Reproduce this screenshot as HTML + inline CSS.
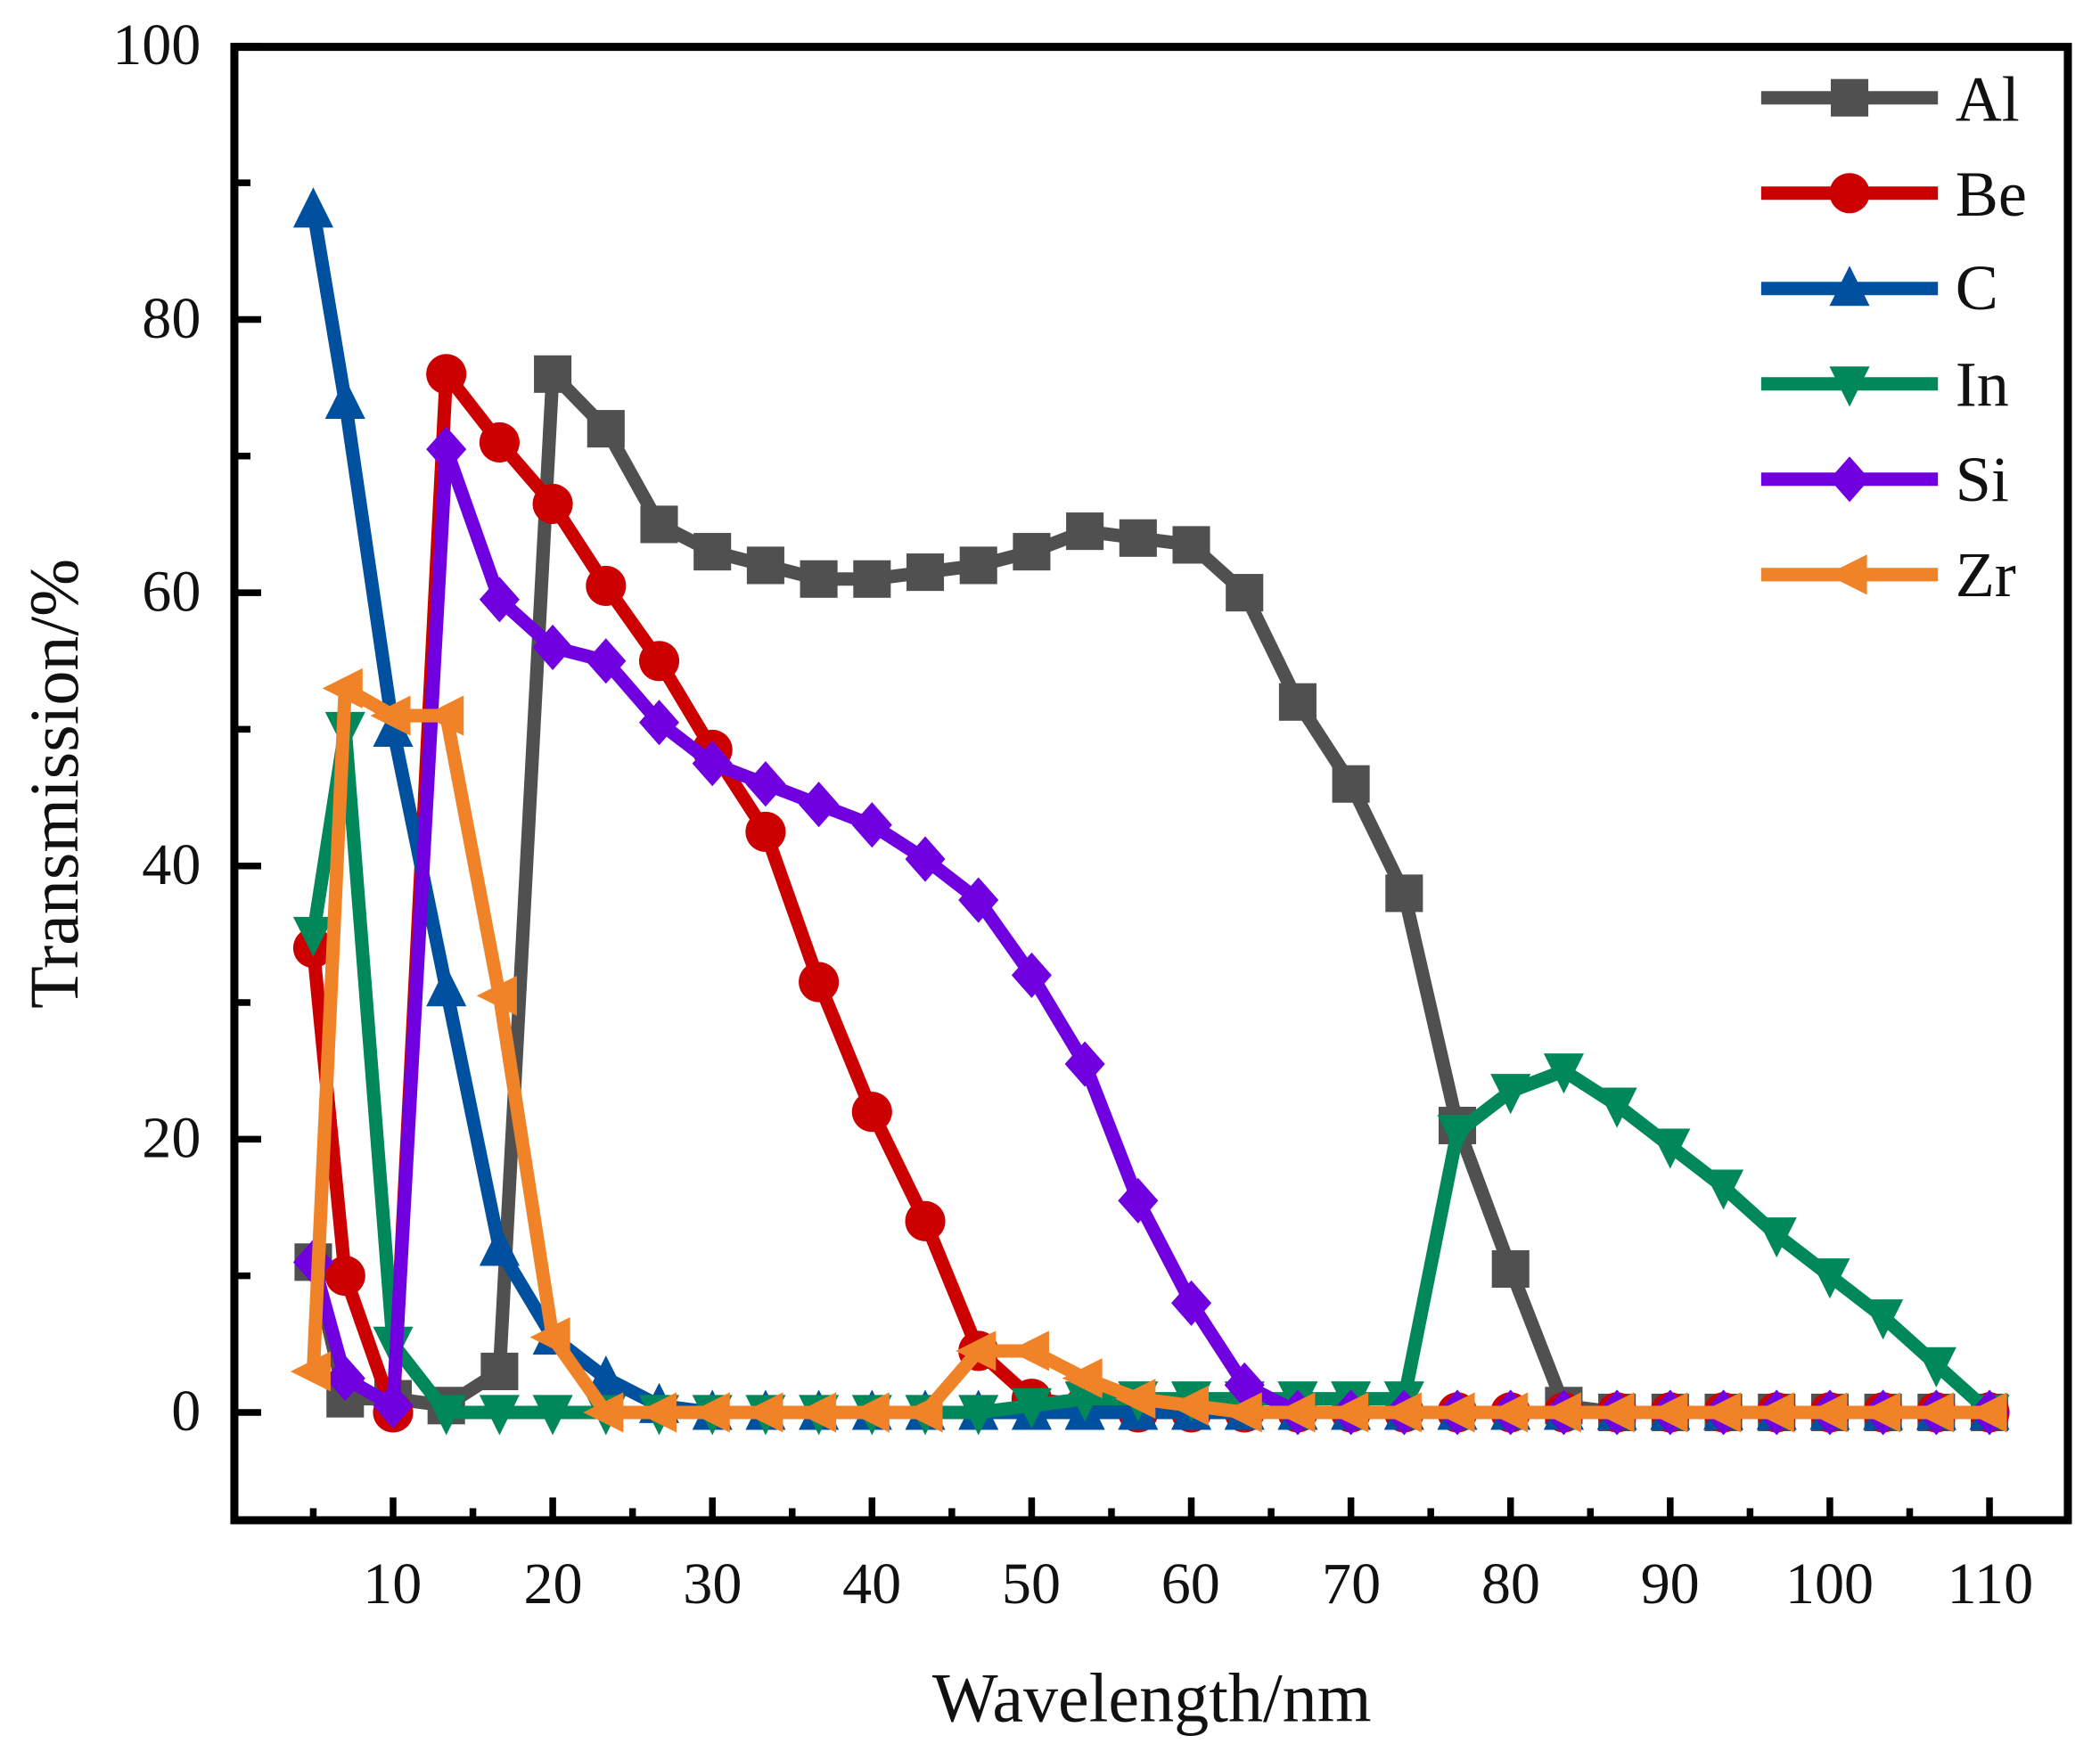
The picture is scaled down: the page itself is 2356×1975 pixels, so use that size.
<!DOCTYPE html>
<html><head><meta charset="utf-8"><style>
html,body{margin:0;padding:0;background:#fff;}
svg{display:block;}
text{font-family:"Liberation Serif",serif;fill:#111;}
</style></head><body>
<svg id="s" width="2356" height="1975" viewBox="0 0 1568 1314" preserveAspectRatio="none" xmlns="http://www.w3.org/2000/svg">
<g id="data"></g>
<rect x="175" y="35" width="1369" height="1100" fill="none" stroke="#000" stroke-width="6"/>
<g id="ticks" stroke="#000" stroke-width="5"></g>
<g font-size="44" text-anchor="end">
<text x="150" y="48">100</text>
<text x="150" y="252">80</text>
<text x="150" y="456">60</text>
<text x="150" y="660">40</text>
<text x="150" y="864">20</text>
<text x="150" y="1068">0</text>
</g>
<g font-size="44" text-anchor="middle">
<text x="293" y="1197">10</text><text x="413" y="1197">20</text><text x="532" y="1197">30</text>
<text x="651" y="1197">40</text><text x="770" y="1197">50</text><text x="889" y="1197">60</text>
<text x="1009" y="1197">70</text><text x="1128" y="1197">80</text><text x="1247" y="1197">90</text>
<text x="1366" y="1197">100</text><text x="1486" y="1197">110</text>
</g>
<text x="860" y="1285" font-size="52" text-anchor="middle">Wavelength/nm</text>
<text transform="translate(58,585) rotate(-90)" font-size="52" text-anchor="middle">Transmission/%</text>
<g id="legend"></g>
<g font-size="48">
<text x="1460" y="90">Al</text><text x="1460" y="161">Be</text><text x="1460" y="231">C</text>
<text x="1460" y="303">In</text><text x="1460" y="374">Si</text><text x="1460" y="445">Zr</text>
</g>
</svg>
<script>
const NS="http://www.w3.org/2000/svg";
const X=v=>293.5+(v-10)*11.92, Y=v=>1054.5-v*10.2;
const xs=[5,7].concat(Array.from({length:31},(_,i)=>10+i*10/3));
function fill(a){while(a.length<xs.length)a.push(0);return a;}
const S=[
["#505050","sq",fill([11,1,1,0.5,3,76,72,65,63,62,61,61,61.5,62,63,64.5,64,63.5,60,52,46,38,21,10.5,0.5])],
["#cc0000","ci",fill([34,10,0,76,71,66.5,60.5,55,48.5,42.5,31.5,22,14,4.5,1,0.5])],
["#0050a0","up",fill([88,74,50,31,12,5.5,2.5,0.5])],
["#00875a","dn",[35,50,5,0,0,0,0,0,0,0,0,0,0,0,0.5,1,1,1,1,1,1,1,20.5,23.5,25,22.5,19.5,16.5,13,10,7,3.5,0]],
["#7000e0","di",fill([11,2.5,0.5,70.5,59.5,56,55,50.5,47.5,46,44.5,43,40.5,37.5,32,25.5,15.5,8,2])],
["#f08228","lt",fill([3,53,51,51,30.5,5.5,0,0,0,0,0,0,0,4.5,4.5,2.5,1,0.5])]
];
function el(n,a,p){const e=document.createElementNS(NS,n);for(const k in a)e.setAttribute(k,a[k]);p.appendChild(e);return e;}
function mk(t,x,y,c,p){const r=15;
 if(t=="sq")el("rect",{x:x-r+1,y:y-r+1,width:2*r-2,height:2*r-2,fill:c},p);
 else if(t=="ci")el("circle",{cx:x,cy:y,r:r,fill:c},p);
 else if(t=="up")el("polygon",{points:`${x},${y-r-2} ${x-r},${y+r-2} ${x+r},${y+r-2}`,fill:c},p);
 else if(t=="dn")el("polygon",{points:`${x},${y+r+2} ${x-r},${y-r+2} ${x+r},${y-r+2}`,fill:c},p);
 else if(t=="di")el("polygon",{points:`${x},${y-r-2} ${x+r},${y} ${x},${y+r+2} ${x-r},${y}`,fill:c},p);
 else el("polygon",{points:`${x-r-2},${y} ${x+r-2},${y-r} ${x+r-2},${y+r}`,fill:c},p);}
const g=document.getElementById("data");
S.forEach(([c,t,d])=>{
 el("polyline",{points:d.map((v,i)=>X(xs[i])+","+Y(v)).join(" "),fill:"none",stroke:c,"stroke-width":10,"stroke-linejoin":"round"},g);
 d.forEach((v,i)=>mk(t,X(xs[i]),Y(v),c,g));
});
const lg=document.getElementById("legend");
S.forEach(([c,t],i)=>{const y=73+i*71.2;
 el("line",{x1:1315,y1:y,x2:1447,y2:y,stroke:c,"stroke-width":10},lg);mk(t,1381,y,c,lg);});
const tk=document.getElementById("ticks");
for(let v=0;v<=100;v+=10){const y=Y(v);el("line",{x1:175,y1:y,x2:v%20==0?195:187,y2:y},tk);}
for(let v=5;v<=110;v+=5){const x=X(v);el("line",{x1:x,y1:1135,x2:x,y2:v%10==0?1118:1126},tk);}
</script>
</body></html>
